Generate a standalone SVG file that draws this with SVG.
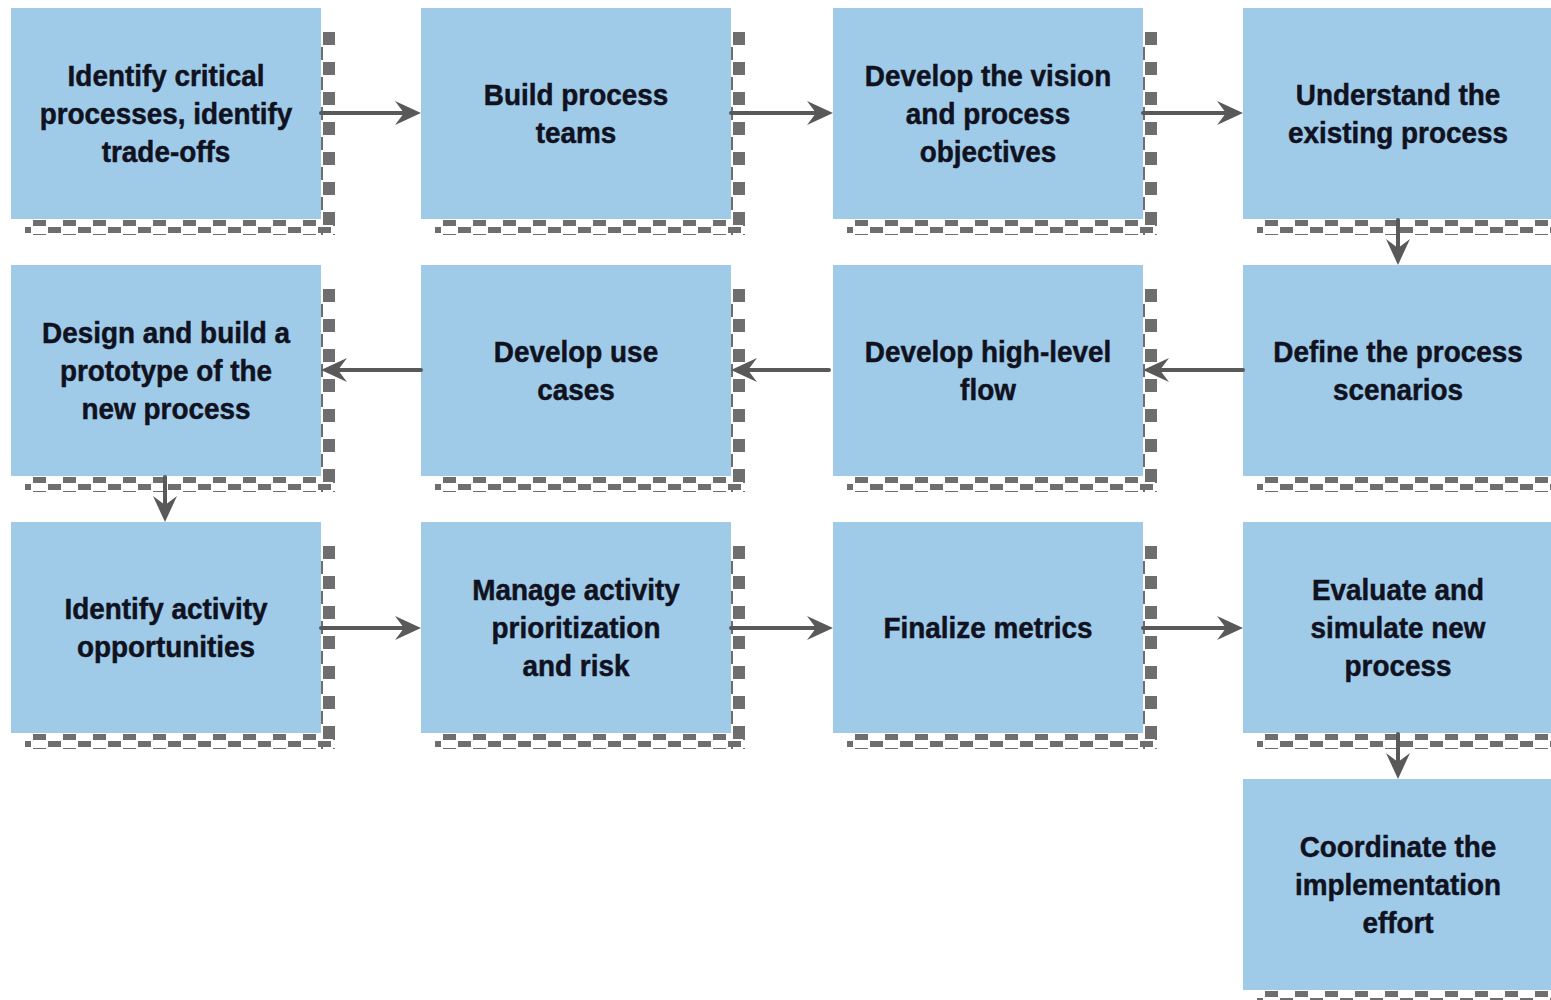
<svg xmlns="http://www.w3.org/2000/svg" width="1551" height="1000" viewBox="0 0 1551 1000">
<defs>
<style>
.box{fill:#9fcbe9}
.t{font-family:"Liberation Sans",Arial,sans-serif;font-weight:bold;font-size:30px;fill:#10121f;stroke:#10121f;stroke-width:0.5;text-anchor:middle}
.c{stroke:#595959;stroke-width:4;fill:none;stroke-linecap:round}
.sr{fill:url(#pr)}
.sb{fill:url(#pb)}
</style>
<pattern id="pr" patternUnits="userSpaceOnUse" x="310" y="24" width="14" height="30">
<rect x="2" y="0" width="12" height="13" fill="#6e6e6e"/>
<rect x="0" y="15" width="2" height="13" fill="#6e6e6e"/>
</pattern>
<pattern id="pb" patternUnits="userSpaceOnUse" x="7" y="212" width="30" height="14">
<rect x="15" y="0" width="13" height="6" fill="#6e6e6e"/>
<rect x="0" y="7" width="13" height="6" fill="#6e6e6e"/>
</pattern>
<marker id="ah" markerUnits="userSpaceOnUse" viewBox="-28 -14 30 28" markerWidth="30" markerHeight="28" refX="-14" refY="0" orient="auto">
<path d="M0,0 L-26,-12 L-17,0 L-26,12 Z" fill="#595959"/>
</marker>
</defs>

<g id="n1" transform="translate(11,8)">
<rect class="sr" x="310" y="22" width="14" height="205"/>
<rect class="sb" x="14" y="212" width="310" height="15"/>
<rect class="box" x="0" y="0" width="310" height="211"/>
<g transform="translate(155,0) scale(0.93,1)"><text class="t" x="0" y="78">Identify critical</text><text class="t" x="0" y="116">processes, identify</text><text class="t" x="0" y="154">trade-offs</text></g>
</g>
<g id="n2" transform="translate(421,8)">
<rect class="sr" x="310" y="22" width="14" height="205"/>
<rect class="sb" x="14" y="212" width="310" height="15"/>
<rect class="box" x="0" y="0" width="310" height="211"/>
<g transform="translate(155,0) scale(0.93,1)"><text class="t" x="0" y="97">Build process</text><text class="t" x="0" y="135">teams</text></g>
</g>
<g id="n3" transform="translate(833,8)">
<rect class="sr" x="310" y="22" width="14" height="205"/>
<rect class="sb" x="14" y="212" width="310" height="15"/>
<rect class="box" x="0" y="0" width="310" height="211"/>
<g transform="translate(155,0) scale(0.93,1)"><text class="t" x="0" y="78">Develop the vision</text><text class="t" x="0" y="116">and process</text><text class="t" x="0" y="154">objectives</text></g>
</g>
<g id="n4" transform="translate(1243,8)">
<rect class="sr" x="310" y="22" width="14" height="205"/>
<rect class="sb" x="14" y="212" width="310" height="15"/>
<rect class="box" x="0" y="0" width="310" height="211"/>
<g transform="translate(155,0) scale(0.93,1)"><text class="t" x="0" y="97">Understand the</text><text class="t" x="0" y="135">existing process</text></g>
</g>

<g id="n5" transform="translate(1243,265)">
<rect class="sr" x="310" y="22" width="14" height="205"/>
<rect class="sb" x="14" y="212" width="310" height="15"/>
<rect class="box" x="0" y="0" width="310" height="211"/>
<g transform="translate(155,0) scale(0.93,1)"><text class="t" x="0" y="97">Define the process</text><text class="t" x="0" y="135">scenarios</text></g>
</g>
<g id="n6" transform="translate(833,265)">
<rect class="sr" x="310" y="22" width="14" height="205"/>
<rect class="sb" x="14" y="212" width="310" height="15"/>
<rect class="box" x="0" y="0" width="310" height="211"/>
<g transform="translate(155,0) scale(0.93,1)"><text class="t" x="0" y="97">Develop high-level</text><text class="t" x="0" y="135">flow</text></g>
</g>
<g id="n7" transform="translate(421,265)">
<rect class="sr" x="310" y="22" width="14" height="205"/>
<rect class="sb" x="14" y="212" width="310" height="15"/>
<rect class="box" x="0" y="0" width="310" height="211"/>
<g transform="translate(155,0) scale(0.93,1)"><text class="t" x="0" y="97">Develop use</text><text class="t" x="0" y="135">cases</text></g>
</g>
<g id="n8" transform="translate(11,265)">
<rect class="sr" x="310" y="22" width="14" height="205"/>
<rect class="sb" x="14" y="212" width="310" height="15"/>
<rect class="box" x="0" y="0" width="310" height="211"/>
<g transform="translate(155,0) scale(0.93,1)"><text class="t" x="0" y="78">Design and build a</text><text class="t" x="0" y="116">prototype of the</text><text class="t" x="0" y="154">new process</text></g>
</g>

<g id="n9" transform="translate(11,522)">
<rect class="sr" x="310" y="22" width="14" height="205"/>
<rect class="sb" x="14" y="212" width="310" height="15"/>
<rect class="box" x="0" y="0" width="310" height="211"/>
<g transform="translate(155,0) scale(0.93,1)"><text class="t" x="0" y="97">Identify activity</text><text class="t" x="0" y="135">opportunities</text></g>
</g>
<g id="n10" transform="translate(421,522)">
<rect class="sr" x="310" y="22" width="14" height="205"/>
<rect class="sb" x="14" y="212" width="310" height="15"/>
<rect class="box" x="0" y="0" width="310" height="211"/>
<g transform="translate(155,0) scale(0.93,1)"><text class="t" x="0" y="78">Manage activity</text><text class="t" x="0" y="116">prioritization</text><text class="t" x="0" y="154">and risk</text></g>
</g>
<g id="n11" transform="translate(833,522)">
<rect class="sr" x="310" y="22" width="14" height="205"/>
<rect class="sb" x="14" y="212" width="310" height="15"/>
<rect class="box" x="0" y="0" width="310" height="211"/>
<g transform="translate(155,0) scale(0.93,1)"><text class="t" x="0" y="116">Finalize metrics</text></g>
</g>
<g id="n12" transform="translate(1243,522)">
<rect class="sr" x="310" y="22" width="14" height="205"/>
<rect class="sb" x="14" y="212" width="310" height="15"/>
<rect class="box" x="0" y="0" width="310" height="211"/>
<g transform="translate(155,0) scale(0.93,1)"><text class="t" x="0" y="78">Evaluate and</text><text class="t" x="0" y="116">simulate new</text><text class="t" x="0" y="154">process</text></g>
</g>
<g id="n13" transform="translate(1243,779)">
<rect class="sr" x="310" y="22" width="14" height="205"/>
<rect class="sb" x="14" y="212" width="310" height="15"/>
<rect class="box" x="0" y="0" width="310" height="211"/>
<g transform="translate(155,0) scale(0.93,1)"><text class="t" x="0" y="78">Coordinate the</text><text class="t" x="0" y="116">implementation</text><text class="t" x="0" y="154">effort</text></g>
</g>

<g id="connectors">
<path class="c" d="M321,113 H407" marker-end="url(#ah)"/>
<path class="c" d="M731,113 H819" marker-end="url(#ah)"/>
<path class="c" d="M1143,113 H1229" marker-end="url(#ah)"/>
<path class="c" d="M1398,220 V251" marker-end="url(#ah)"/>
<path class="c" d="M1243,370 H1157" marker-end="url(#ah)"/>
<path class="c" d="M829,370 H745" marker-end="url(#ah)"/>
<path class="c" d="M421,370 H335" marker-end="url(#ah)"/>
<path class="c" d="M165,477 V508" marker-end="url(#ah)"/>
<path class="c" d="M321,628 H407" marker-end="url(#ah)"/>
<path class="c" d="M731,628 H819" marker-end="url(#ah)"/>
<path class="c" d="M1143,628 H1229" marker-end="url(#ah)"/>
<path class="c" d="M1398,734 V765" marker-end="url(#ah)"/>
</g>
</svg>
